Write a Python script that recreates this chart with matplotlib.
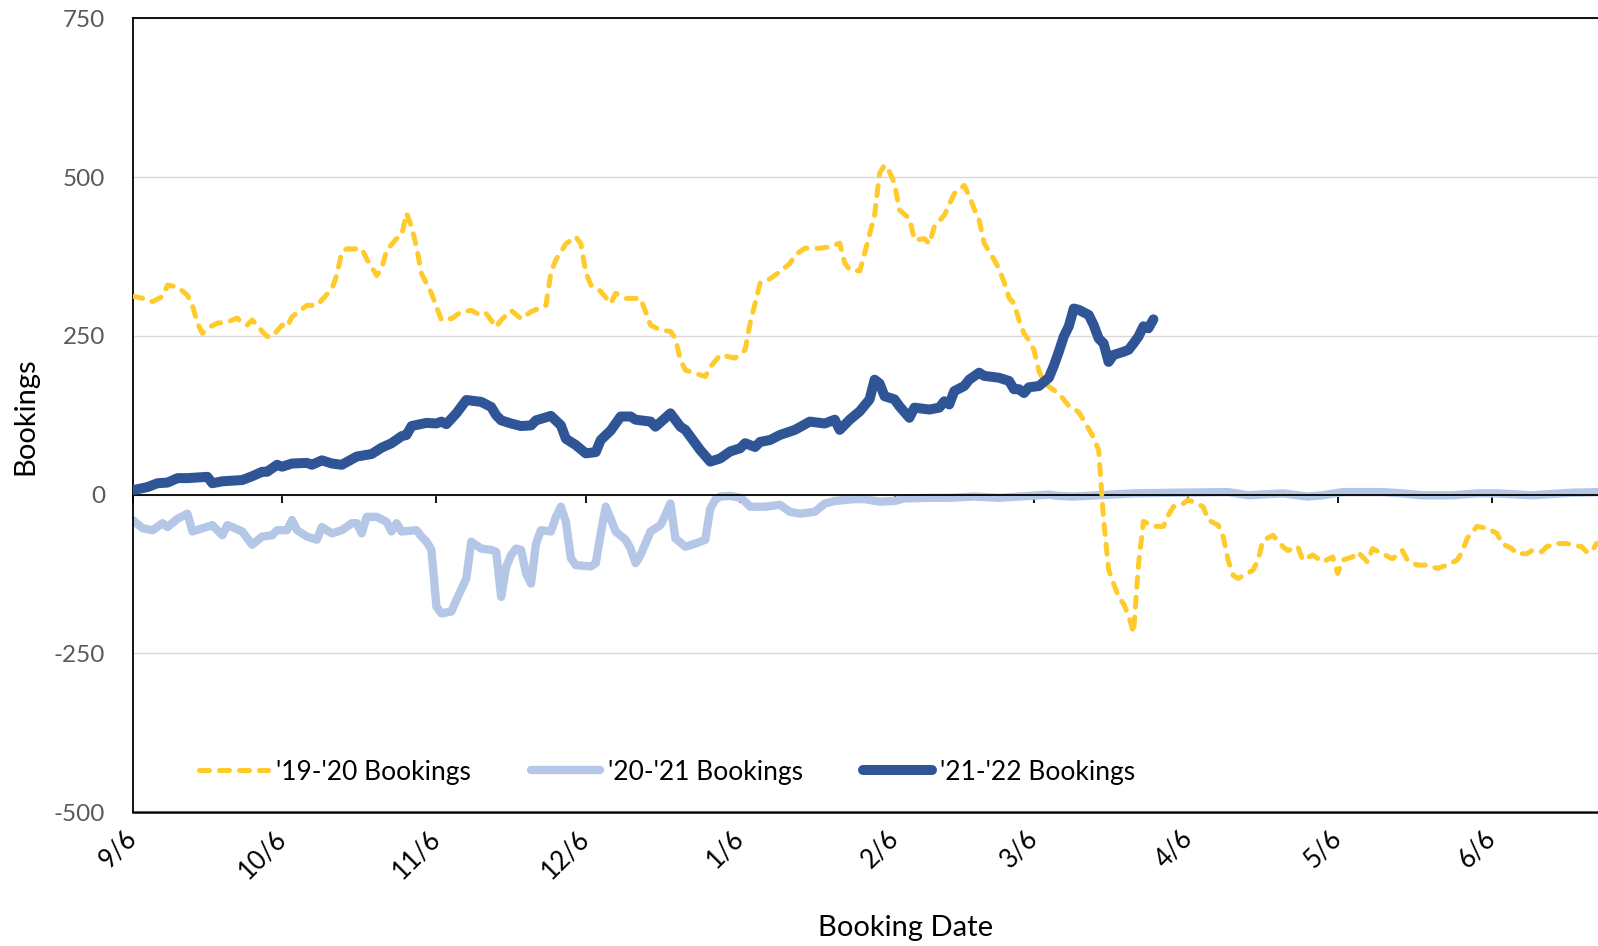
import datetime as dt
import matplotlib
matplotlib.use("Agg")
import matplotlib.pyplot as plt
import matplotlib.dates as mdates

# ---------------- data (day offsets from 9/6, values) ----------------
start = dt.date(2021, 9, 6)

y1920_days = [0, 1, 2, 4, 6, 7, 9, 11, 12, 13, 14, 15, 17, 19, 21, 22, 23, 24, 26, 27, 28, 30, 31, 32,
              35, 37, 40, 41, 42, 43, 46, 47, 49, 50, 51, 53, 54, 55, 56, 57, 58, 60, 61, 62, 63, 64,
              66, 68, 70, 71, 73, 74, 76, 78, 80, 83, 84, 85, 86, 87, 89, 90, 91, 92, 94, 96, 97, 99,
              102, 103, 104, 106, 108, 109, 110, 111, 113, 115, 116, 118, 121, 123, 124, 125, 126, 128,
              130, 132, 133, 135, 138, 140, 142, 143, 144, 146, 147, 148, 149, 150, 151, 152, 153, 154,
              156, 157, 159, 160, 161, 163, 165, 167, 168, 169, 170, 171, 172, 173, 174, 175, 176, 177,
              178, 179, 180, 181, 182, 183, 184, 186, 188, 190, 191, 193, 194, 195, 196, 197, 198, 199,
              200, 201, 202, 203, 205, 207, 208, 209, 211, 212, 215, 216, 218, 219, 220, 221, 222, 225,
              226, 227, 229, 231, 232, 234, 235, 237, 239, 241, 242, 243, 245, 246, 248, 249, 251, 253,
              255, 256, 258, 260, 262, 264, 266, 267, 268, 270, 272, 274, 275, 277, 278, 280, 281, 283,
              284, 286, 288, 291, 292, 293, 294]
y1920_vals = [312, 311, 309, 304, 312, 330, 327, 314, 298, 270, 254, 262, 270, 272, 278, 270, 267, 275, 257, 249, 249, 267, 264, 280,
              298, 298, 324, 346, 382, 387, 387, 371, 345, 356, 385, 403, 408, 443, 422, 390, 348, 317, 296, 275, 277, 277,
              288, 290, 282, 285, 264, 275, 290, 277, 288, 298, 350, 370, 382, 395, 406, 395, 350, 330, 320, 301, 317, 309,
              309, 288, 267, 259, 257, 246, 212, 196, 191, 186, 201, 220, 215, 228, 270, 301, 333, 340,
              351, 364, 377, 388, 388, 390, 396, 365, 354, 352, 380, 410, 440, 506, 519, 508, 490, 448,
              435, 401, 403, 395, 422, 440, 474, 487, 470, 450, 432, 396, 383, 370, 355, 335, 310, 301,
              275, 254, 243, 228, 195, 178, 170, 159, 140, 130, 117, 90, 70, -40, -118, -140, -161, -172,
              -190, -218, -110, -42, -50, -50, -32, -19, -14, -8, -19, -40, -48, -66, -103, -127, -132, -119,
              -103, -72, -64, -82, -88, -82, -103, -95, -106, -98, -124, -103, -98, -90, -106, -85, -93, -101,
              -88, -103, -111, -111, -116, -111, -103, -90, -69, -50, -53, -61, -77, -85, -93, -93, -88, -90,
              -82, -77, -77, -82, -90, -90, -77]

y2021_days = [0, 2, 4, 6, 7, 9, 11, 12, 14, 16, 18, 19, 20, 22, 24, 26, 28, 29, 31, 32, 33, 35, 37, 38,
              40, 42, 44, 45, 46, 47, 49, 51, 52, 53, 54, 57, 58, 59, 60, 61, 62, 64, 65, 67, 68, 70,
              72, 73, 74, 75, 76, 77, 78, 79, 80, 81, 82, 84, 85, 86, 87, 88, 89, 92, 93, 94, 95, 96,
              97, 99, 100, 101, 102, 104, 106, 107, 108, 109, 111, 113, 115, 116, 117, 118, 120, 122,
              123, 124, 127, 130, 132, 134, 137, 139, 141, 145, 147, 150, 153, 155, 160, 164, 169, 174,
              178, 182, 184, 186, 189, 194, 201, 209, 220, 224, 231, 236, 239, 243, 251, 255, 259, 265,
              270, 274, 281, 289, 295]
y2021_vals = [-40, -53, -56, -45, -51, -38, -30, -58, -53, -48, -64, -48, -51, -58, -79, -66, -64, -56, -56, -40, -56, -66, -71, -51,
              -61, -56, -45, -45, -61, -35, -35, -43, -58, -45, -58, -56, -66, -74, -87, -176, -187, -184, -166, -132, -74, -85,
              -87, -90, -161, -114, -95, -85, -87, -124, -140, -77, -56, -58, -35, -19, -43, -100, -111, -113, -108, -61, -19, -38,
              -58, -71, -85, -108, -95, -58, -48, -32, -14, -69, -82, -77, -71, -22, -8, -3, -2, -5,
              -11, -19, -19, -16, -27, -30, -27, -14, -10, -7, -7, -11, -10, -6, -5, -5, -3, -5,
              -3, -1, 0, -2, -3, -1, 2, 3, 4, -1, 2, -3, -1, 4, 4, 2, -1, -1,
              2, 2, -1, 3, 4]

y2122_days = [0, 3, 5, 7, 9, 11, 15, 16, 18, 22, 24, 26, 27, 29, 30, 32, 35, 36, 38, 40, 42, 45, 48, 50,
              52, 54, 55, 56, 59, 61, 62, 63, 65, 67, 70, 72, 73, 74, 76, 78, 80, 81, 84, 86, 87, 89,
              91, 93, 94, 96, 98, 100, 101, 104, 105, 108, 110, 111, 114, 116, 118, 120, 122, 123, 125,
              126, 128, 130, 133, 136, 139, 141, 142, 144, 146, 148, 149, 150, 151, 153, 154, 156, 157,
              160, 162, 163, 164, 165, 167, 168, 170, 171, 174, 176, 177, 178, 179, 180, 182, 184, 185,
              186, 187, 188, 189, 190, 192, 193, 194, 195, 196, 197, 199, 200, 201, 202, 203, 204, 205]
y2122_vals = [7, 12, 18, 19, 26, 26, 28, 18, 21, 23, 29, 36, 36, 47, 44, 49, 50, 47, 54, 49, 47, 60, 64, 74,
              81, 92, 94, 108, 113, 112, 115, 111, 128, 149, 146, 138, 125, 117, 112, 108, 109, 117, 124, 109, 88, 78,
              65, 67, 86, 101, 123, 123, 118, 115, 107, 128, 107, 102, 70, 52, 57, 68, 73, 81, 75,
              83, 86, 94, 102, 115, 112, 118, 102, 118, 131, 150, 181, 175, 155, 150, 139, 121, 137,
              134, 137, 147, 142, 163, 171, 181, 192, 187, 184, 179, 166, 166, 160, 169, 171, 184, 203,
              225, 249, 265, 293, 291, 283, 267, 246, 238, 209, 220, 225, 228, 238, 249, 265, 262, 276]

series_names = ["'19-'20 Bookings", "'20-'21 Bookings", "'21-'22 Bookings"]
tick_labels = ['9/6', '10/6', '11/6', '12/6', '1/6', '2/6', '3/6', '4/6', '5/6', '6/6']
tick_dates = [dt.date(2021, 9, 6), dt.date(2021, 10, 6), dt.date(2021, 11, 6), dt.date(2021, 12, 6),
              dt.date(2022, 1, 6), dt.date(2022, 2, 6), dt.date(2022, 3, 6), dt.date(2022, 4, 6),
              dt.date(2022, 5, 6), dt.date(2022, 6, 6)]
y_ticks = [-500, -250, 0, 250, 500, 750]

# ---------------- styling ----------------
plt.rcParams['font.family'] = ['Lato', 'DejaVu Sans']
C_YEL = '#FFCA2C'
C_LBL = '#B4C7E7'
C_NAV = '#2F5597'

W, H = 1598, 946
fig = plt.figure(figsize=(W / 100, H / 100), dpi=100)
left = 132.7 / W
ax = fig.add_axes([left, (H - 812.2) / H, 1548.5 / W, (812.2 - 18.3) / H])

def to_dates(days):
    return [start + dt.timedelta(days=d) for d in days]

l2, = ax.plot(to_dates(y2021_days), y2021_vals, color=C_LBL, lw=6.0, zorder=2,
              solid_capstyle='round', solid_joinstyle='round', label=series_names[1])
l1, = ax.plot(to_dates(y1920_days), y1920_vals, color=C_YEL, lw=3.6, zorder=3,
              linestyle=(0, (2.0, 2.0)), dash_capstyle='round', dash_joinstyle='round',
              label=series_names[0])
l3, = ax.plot(to_dates(y2122_days), y2122_vals, color=C_NAV, lw=7.2, zorder=4,
              solid_capstyle='round', solid_joinstyle='round', label=series_names[2])

ax.set_xlim(start, start + dt.timedelta(days=311))
ax.set_ylim(-500, 750)
ax.set_yticks(y_ticks)
ax.set_yticklabels([str(v) for v in y_ticks])
ax.tick_params(axis='y', length=0, pad=20, labelsize=17.5, labelcolor='#595959')
ax.yaxis.grid(True, color='#D9D9D9', lw=1.0, zorder=0)
ax.set_axisbelow(True)

# axis line with ticks at y = 0
ax.spines['bottom'].set_position(('data', 0))
ax.spines['bottom'].set_color('black')
ax.spines['bottom'].set_linewidth(1.3)
ax.set_xticks(tick_dates)
ax.tick_params(axis='x', direction='out', length=6, width=1.3, color='black', labelbottom=False)
for s in ['left', 'top', 'right']:
    ax.spines[s].set_color('black')
    ax.spines[s].set_linewidth(1.3)

# tick labels along the bottom border
sec = ax.secondary_xaxis('bottom')
sec.set_xticks(tick_dates)
sec.set_xticklabels(tick_labels)
sec.tick_params(axis='x', length=0, pad=16, labelsize=18.5, labelcolor='black')
sec.spines['bottom'].set_color('black')
sec.spines['bottom'].set_linewidth(1.8)
for lab in sec.get_xticklabels():
    lab.set_rotation(45)
    lab.set_ha('right')
    lab.set_va('center')
    lab.set_rotation_mode('anchor')

fig.text(889 * 1598 / 1568 / W, 1 - 928 / H, 'Booking Date', ha='center', va='center',
         fontsize=21, color='black')
fig.text(25.5 / W, 1 - 416 / H, 'Bookings', ha='center', va='center', rotation=90,
         fontsize=21, color='black')

fig.legend(handles=[l1, l2, l3], labels=series_names, loc='center left',
           bbox_to_anchor=(199 / W, 1 - 772 / H), ncol=3, frameon=False, fontsize=19,
           handlelength=2.6, handletextpad=0.3, columnspacing=2.3, borderpad=0,
           borderaxespad=0)

fig.savefig('out.png', dpi=100)
